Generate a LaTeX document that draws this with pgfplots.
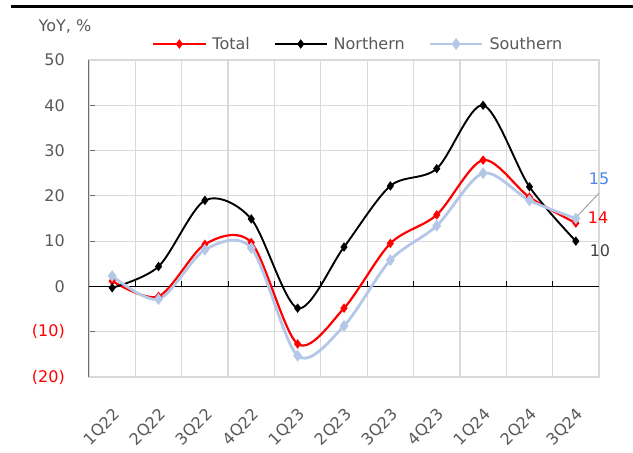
\documentclass[border=0pt]{standalone}
\usepackage{pgfplots}
\pgfplotsset{compat=1.18}
\usepackage{fontspec}
\setmainfont{DejaVu Sans}

\definecolor{gridgray}{RGB}{217,217,217}
\definecolor{axisgray}{RGB}{110,110,110}
\definecolor{labelgray}{RGB}{89,89,89}
\definecolor{southblue}{RGB}{180,199,231}
\definecolor{labelblue}{RGB}{74,134,232}
\definecolor{darktext}{RGB}{64,64,64}
\definecolor{leadergray}{RGB}{166,166,166}

\newcommand{\chartfont}{\fontsize{16bp}{19bp}\selectfont}

\begin{document}
\begin{tikzpicture}
\useasboundingbox (-89bp,-76bp) rectangle (544bp,377bp);
% heavy rule across the top
\draw[black, line width=3.5bp] (-78bp,370.5bp) -- (544bp,370.5bp);
\node[text=labelgray, font=\chartfont, inner sep=0pt] at (-24bp,351bp) {YoY, \%};

\begin{axis}[
  scale only axis, width=510bp, height=317bp,
  at={(0,0)}, anchor=south west,
  xmin=-0.5, xmax=10.5, ymin=-20, ymax=50,
  xtick={0,...,10},
  xticklabels={1Q22,2Q22,3Q22,4Q22,1Q23,2Q23,3Q23,4Q23,1Q24,2Q24,3Q24},
  minor xtick={0.5,1.5,...,9.5},
  ytick={-20,-10,...,50},
  yticklabels={\textcolor{red}{(20)},\textcolor{red}{(10)},0,10,20,30,40,50},
  xminorgrids=true, ymajorgrids=true,
  major grid style={draw=gridgray, line width=1.2bp},
  minor grid style={draw=gridgray, line width=1.2bp},
  axis line style={draw=gridgray, line width=1.2bp},
  tick align=inside,
  major tick length=6bp, minor tick length=0pt,
  xtick style={draw=none},
  ytick style={draw=axisgray, line width=1bp},
  ytick pos=left,
  xticklabel style={font=\chartfont, text=labelgray, inner sep=0pt,
    xshift=5bp, yshift=-35bp, rotate=45, anchor=east},
  yticklabel style={font=\chartfont, text=labelgray, inner sep=0pt,
    anchor=east, xshift=-24bp},
  clip=false,
  legend columns=-1,
  legend style={draw=none, fill=none, font=\chartfont, text=labelgray,
    at={(0.528,1.0505)}, anchor=center,
    /tikz/every odd column/.append style={column sep=4bp},
    /tikz/every even column/.append style={column sep=22bp}},
  legend image code/.code={%
    \draw[mark repeat=2,mark phase=2,#1]
      plot coordinates {(0bp,0bp) (26bp,0bp) (52bp,0bp)};},
]

% zero line with short ticks at the category boundaries
\draw[black, line width=1.3bp] (axis cs:-0.5,0) -- (axis cs:10.5,0);
\pgfplotsinvokeforeach{0.5,1.5,2.5,3.5,4.5,5.5,6.5,7.5,8.5,9.5}{
  \draw[black, line width=1bp] (axis cs:#1,0) -- (axis cs:#1,1.1);
}
% left axis line
\draw[axisgray, line width=1bp] (rel axis cs:0,0) -- (rel axis cs:0,1);

\addplot[red, line width=2.2bp, smooth, mark=diamond*,
  mark size=3bp, mark options={fill=red, draw=red}]
  coordinates {(0,1.2) (1,-2.2) (2,9.3) (3,9.7) (4,-12.7) (5,-4.8)
               (6,9.5) (7,15.8) (8,27.9) (9,19.7) (10,14)};
\addlegendentry{Total}

\addplot[black, line width=1.9bp, smooth, mark=diamond*,
  mark size=3.2bp, mark options={fill=black, draw=black}]
  coordinates {(0,-0.3) (1,4.4) (2,19.0) (3,14.9) (4,-4.8) (5,8.7)
               (6,22.2) (7,26.0) (8,40.0) (9,22.0) (10,10)};
\addlegendentry{Northern}

\addplot[southblue, line width=2.8bp, smooth, mark=diamond*,
  mark size=3.6bp, mark options={fill=southblue, draw=southblue}]
  coordinates {(0,2.3) (1,-2.8) (2,8.1) (3,8.5) (4,-15.3) (5,-8.7)
               (6,5.8) (7,13.4) (8,25.0) (9,19.0) (10,15)};
\addlegendentry{Southern}

% end-of-series value labels
\draw[leadergray, line width=1bp] (axis cs:10.02,15.4) -- (axis cs:10.5,20.6);
\node[text=labelblue, font=\chartfont, inner sep=0pt] at (axis cs:10.5,23.7) {15};
\node[text=red, font=\chartfont, inner sep=0pt] at (axis cs:10.48,15.1) {14};
\node[text=darktext, font=\chartfont, inner sep=0pt] at (axis cs:10.52,8.0) {10};
\end{axis}
\end{tikzpicture}
\end{document}
